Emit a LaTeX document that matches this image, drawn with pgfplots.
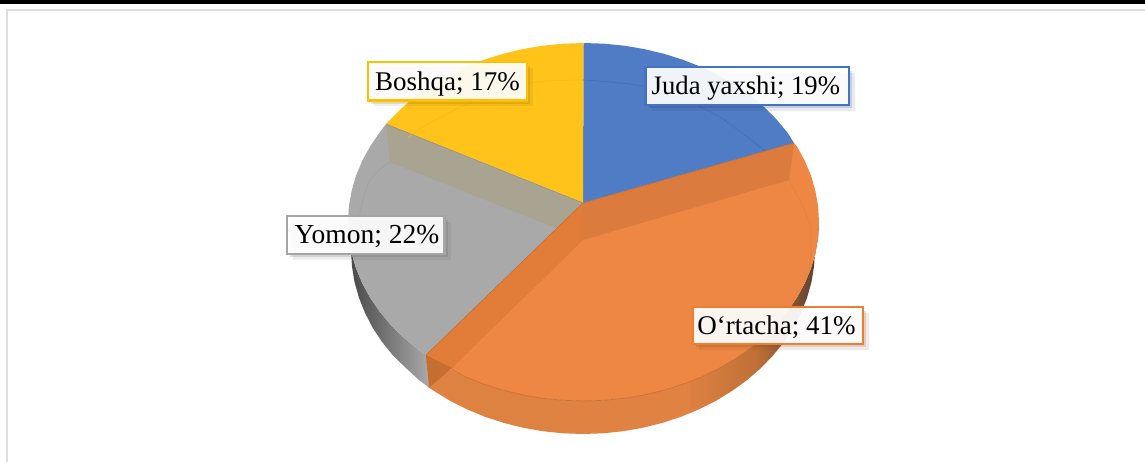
\documentclass[border=0pt]{standalone}
\usepackage{pgfplots}
\pgfplotsset{compat=1.18}
\usepackage{fontspec}
\setmainfont{Liberation Serif}
\usetikzlibrary{shadows}
\definecolor{cblue}{HTML}{507CC6}
\definecolor{cyel}{HTML}{FFC31A}
\definecolor{cgrey}{HTML}{A9A9A9}
\definecolor{corg}{HTML}{ED8743}
\definecolor{bandR}{HTML}{DB7B3D}
\definecolor{bandL}{HTML}{E17D38}
\definecolor{taupe}{HTML}{A9A391}
\definecolor{bYel}{HTML}{FFC000}
\definecolor{bBlue}{HTML}{4472C4}
\definecolor{bGrey}{HTML}{A5A5A5}
\definecolor{bOrg}{HTML}{ED7D31}
\pgfdeclarehorizontalshading{orgside}{100bp}{
 rgb(0bp)=(0.87,0.51,0.26); rgb(25bp)=(0.87,0.51,0.26); rgb(58bp)=(0.875,0.51,0.26);
 rgb(67bp)=(0.75,0.44,0.215); rgb(75bp)=(0.35,0.25,0.19); rgb(100bp)=(0.35,0.25,0.19)}
\tikzset{lab/.style={draw=#1,line width=2.5pt,fill=white,fill opacity=0.92,text opacity=1,
  anchor=west,inner sep=0pt,outer sep=0pt,
  drop shadow={opacity=0.10,shadow xshift=6pt,shadow yshift=-6pt,fill=#1!50!black},
  drop shadow={opacity=0.16,shadow xshift=3pt,shadow yshift=-3.5pt,fill=#1!50!black}}}
\newcommand{\labtxt}[4]{\makebox[#1pt][l]{\hspace*{#2pt}\raisebox{-9pt}[0pt][0pt]{\fontsize{#3}{30}\selectfont #4}}}
\begin{document}
\begin{tikzpicture}
\begin{axis}[width=1145pt,height=462pt,scale only axis,at={(0,0)},
  xmin=0,xmax=1145,ymin=0,ymax=462,y dir=reverse,hide axis,clip=true]
% page edge and frame
\addplot[fill=black,draw=none,forget plot] coordinates {(0,0)(1145,0)(1145,4.5)(0,4.5)} --cycle;
\addplot[draw=black!13,line width=2pt,forget plot] coordinates {(7,462)(7,10)(1145,10)};
% side wall, grey
\addplot[left color=black!72,right color=cgrey,draw=none,forget plot] coordinates {
(349,222)(348.9,237.6)(351.6,253.1)(356,268.3)(362.2,283.2)(370.1,297.6)(379.6,311.5)(390.6,324.7)(403.1,337.1)(417,348.6)(426,355)
(429,387.6)(419,380.1)(406,368.1)(393,355.5)(382.1,342)(372.7,327.8)(365,312.9)(358.9,297.6)(354.5,281.9)(351.9,266)(351,250)} --cycle;
% side wall, orange
\addplot[shading=orgside,draw=none,forget plot] coordinates {
(426,355)(429,387.6)(433.9,390.9)(449.9,400.7)(467,409.3)(485,416.8)(503.7,422.9)(523,427.7)(542.7,431.2)(562.8,433.3)(583,434)
(603.2,433.3)(623.3,431.2)(643,427.7)(662.3,422.9)(681,416.8)(699,409.3)(716.1,400.7)(732.1,390.9)(747,380.1)(760.7,368.3)(773,355.5)(783.9,342)(793.3,327.8)(801,312.9)(807.1,297.6)(811.5,281.9)(814.1,266)(815,250)(819,222)
(818.1,237.6)(815.4,253.1)(811,268.3)(804.8,283.2)(796.9,297.6)(787.4,311.5)(776.4,324.7)(763.9,337.1)(750,348.6)(734.9,359.1)(718.6,368.6)(701.3,377)(683,384.2)(664,390.2)(644.4,394.9)(624.4,398.3)(604,400.3)(583.5,401)(563,400.3)(542.6,398.3)(522.6,394.9)(503,390.2)(484,384.2)(465.7,377)(448.4,368.6)(432.1,359.1)} --cycle;
% top face: Juda yaxshi 19
\addplot[fill=cblue,draw=none,forget plot] coordinates {
(583,203)(794,143)(787.4,132.5)(776.4,119.3)(763.9,106.9)(750,95.4)(734.9,84.9)(718.6,75.4)(701.3,67)(683,59.8)(664,53.8)(644.4,49.1)(624.4,45.7)(604,43.7)(583.5,43)} --cycle;
% top face: Boshqa 17
\addplot[fill=cyel,draw=none,forget plot] coordinates {
(583,203)(583.5,43)(563,43.7)(542.6,45.7)(522.6,49.1)(503,53.8)(484,59.8)(465.7,67)(448.4,75.4)(432.1,84.9)(417,95.4)(403.1,106.9)(390.6,119.3)(386,124)} --cycle;
% top face: Yomon 22
\addplot[fill=cgrey,draw=none,forget plot] coordinates {
(583,203)(386,124)(379.6,132.5)(370.1,146.4)(362.2,160.8)(356,175.7)(351.6,190.9)(348.9,206.4)(348,222)(348.9,237.6)(351.6,253.1)(356,268.3)(362.2,283.2)(370.1,297.6)(379.6,311.5)(390.6,324.7)(403.1,337.1)(417,348.6)(426,355)} --cycle;
% top face: O'rtacha 41
\addplot[fill=corg,draw=none,forget plot] coordinates {
(583,203)(426,355)(432.1,359.1)(448.4,368.6)(465.7,377)(484,384.2)(503,390.2)(522.6,394.9)(542.6,398.3)(563,400.3)(583.5,401)(604,400.3)(624.4,398.3)(644.4,394.9)(664,390.2)(683,384.2)(701.3,377)(718.6,368.6)(734.9,359.1)(750,348.6)(763.9,337.1)(776.4,324.7)(787.4,311.5)(796.9,297.6)(804.8,283.2)(811,268.3)(815.4,253.1)(818.1,237.6)(819,222)(818.1,206.4)(815.4,190.9)(811,175.7)(804.8,160.8)(796.9,146.4)(794,143)} --cycle;
% inner walls
\addplot[fill=taupe,draw=none,forget plot] coordinates {(386,124)(583,203)(557,228.5)(390,162)} --cycle;
\addplot[fill=bandR,draw=none,forget plot] coordinates {(794,143)(583,203)(583,240)(789,180)} --cycle;
\addplot[fill=bandL,draw=none,forget plot] coordinates {(583,203)(426,355)(452,368)(583,240)} --cycle;
\addplot[fill=black!12!bandL,draw=none,forget plot] coordinates {(426,355)(429,387.6)(452,368)} --cycle;
% faint rims
\addplot[draw=black!11!cblue,line width=0.6pt,smooth,forget plot] coordinates {(583,80)(647,87)(713,113)(765,151)};
\addplot[draw=black!4!cyel,line width=0.6pt,smooth,forget plot] coordinates {(583,80)(530,83)(470,103)(423,127)(408,138)};
\addplot[draw=black!5!cgrey,line width=0.6pt,smooth,forget plot] coordinates {(390,162)(370,180)(360,213)(357,250)};
\addplot[draw=black!4!corg,line width=0.6pt,smooth,forget plot] coordinates {(789,180)(803,207)(811,230)(810,265)};
% edges
\addplot[draw=black!16!corg,line width=0.7pt,forget plot] coordinates {(452,369.6)(465.7,377)(484,384.2)(503,390.2)(522.6,394.9)(542.6,398.3)(563,400.3)(583.5,401)(604,400.3)(624.4,398.3)(644.4,394.9)(664,390.2)(683,384.2)(701.3,377)(718.6,368.6)(734.9,359.1)(750,348.6)(763.9,337.1)};
\addplot[draw=black!20!corg,line width=0.5pt,forget plot] coordinates {(794,143)(583,203)(426,355)};
\addplot[draw=black!12!taupe,line width=0.5pt,forget plot] coordinates {(386,124)(583,203)};
% labels
\node[lab=bYel,minimum width=159.2pt,minimum height=38.3pt] at (axis cs:367.9,81.3) {\labtxt{159.2}{7.2}{27}{Boshqa; 17\%}};
\node[lab=bBlue,minimum width=203.3pt,minimum height=37.6pt] at (axis cs:645.5,86) {\labtxt{203.3}{6.2}{26.7}{Juda yaxshi; 19\%}};
\node[lab=bGrey,minimum width=157.3pt,minimum height=37.6pt] at (axis cs:287.2,235) {\labtxt{157.3}{7.4}{27.5}{Yomon; 22\%}};
\node[lab=bOrg,minimum width=170.2pt,minimum height=36.6pt] at (axis cs:692.9,325.5) {\labtxt{170.2}{4.5}{27}{O‘rtacha; 41\%}};
\end{axis}
\end{tikzpicture}
\end{document}
